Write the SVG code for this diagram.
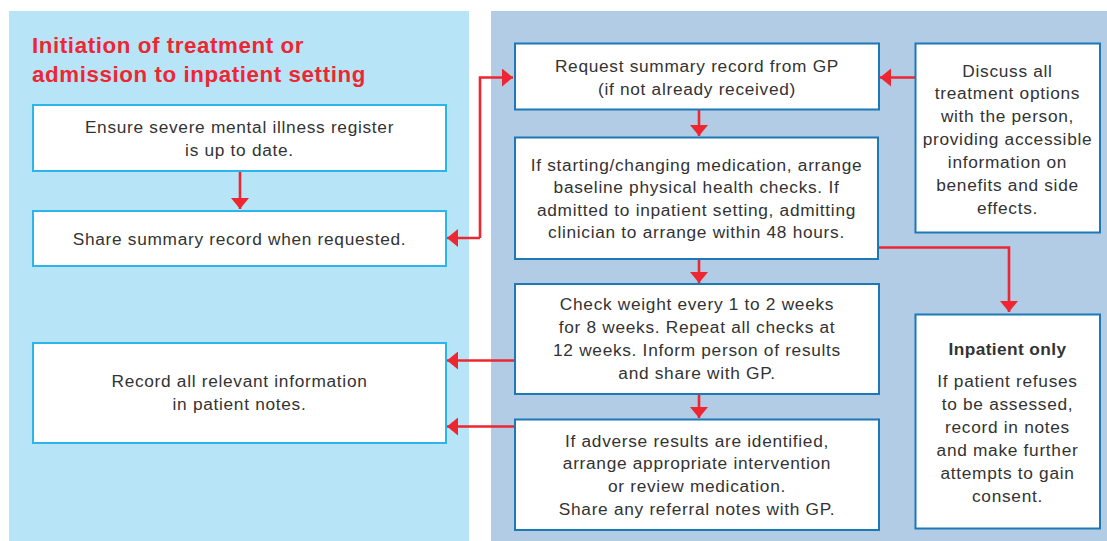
<svg xmlns="http://www.w3.org/2000/svg" width="1107" height="541" viewBox="0 0 1107 541">
<defs>
<style>
.t{font-family:"Liberation Sans",Arial,sans-serif;font-size:17.3px;letter-spacing:0.7px;fill:#333333;text-anchor:middle}
.b{font-weight:bold;letter-spacing:0.4px}
.h{font-family:"Liberation Sans",Arial,sans-serif;font-size:22.3px;letter-spacing:0.6px;font-weight:bold;fill:#ee2631}
.lb{fill:#ffffff;stroke:#2bb5e8;stroke-width:2}
.rb{fill:#ffffff;stroke:#1d78b6;stroke-width:2}
.c{fill:none;stroke:#ee2631;stroke-width:2.6}
</style>
<marker id="ah" viewBox="0 0 11 18" refX="11" refY="9" markerWidth="11" markerHeight="18" markerUnits="userSpaceOnUse" orient="auto">
<path d="M0,0 L11,9 L0,18 Z" fill="#ee2631"/>
</marker>
</defs>
<rect width="1107" height="541" fill="#ffffff"/>
<rect id="panel-left" x="9" y="11" width="460" height="530" fill="#b8e4f8"/>
<rect id="panel-right" x="491" y="11" width="616" height="530" fill="#b1cce4"/>
<text class="h" x="32" y="52.5">Initiation of treatment or</text>
<text class="h" x="32" y="81.5">admission to inpatient setting</text>
<g id="connectors">
<path class="c" d="M240,171 V209" marker-end="url(#ah)"/>
<path class="c" d="M480,238 H447" marker-end="url(#ah)"/>
<path class="c" d="M480,238 V77.5 H513" marker-end="url(#ah)"/>
<path class="c" d="M915,77.5 H880" marker-end="url(#ah)"/>
<path class="c" d="M699,109.5 V136" marker-end="url(#ah)"/>
<path class="c" d="M699,259 V283" marker-end="url(#ah)"/>
<path class="c" d="M699,394 V418" marker-end="url(#ah)"/>
<path class="c" d="M878,247.5 H1009 V312" marker-end="url(#ah)"/>
<path class="c" d="M515,360.5 H447" marker-end="url(#ah)"/>
<path class="c" d="M515,426.5 H447" marker-end="url(#ah)"/>
</g>
<g id="n-ensure">
<rect class="lb" x="33" y="105" width="413" height="66"/>
<text class="t" x="239.5" y="132.5">Ensure severe mental illness register</text>
<text class="t" x="239.5" y="155.5">is up to date.</text>
</g>
<g id="n-share">
<rect class="lb" x="33" y="211" width="413" height="55"/>
<text class="t" x="239.5" y="245">Share summary record when requested.</text>
</g>
<g id="n-record">
<rect class="lb" x="33" y="343" width="413" height="100"/>
<text class="t" x="239.5" y="387">Record all relevant information</text>
<text class="t" x="239.5" y="410">in patient notes.</text>
</g>
<g id="n-request">
<rect class="rb" x="515" y="43.5" width="364" height="66"/>
<text class="t" x="697" y="71.5">Request summary record from GP</text>
<text class="t" x="697" y="94.5">(if not already received)</text>
</g>
<g id="n-baseline">
<rect class="rb" x="515" y="137.5" width="363" height="121.5"/>
<text class="t" x="696.5" y="170.5">If starting/changing medication, arrange</text>
<text class="t" x="696.5" y="193">baseline physical health checks. If</text>
<text class="t" x="696.5" y="215.5">admitted to inpatient setting, admitting</text>
<text class="t" x="696.5" y="238">clinician to arrange within 48 hours.</text>
</g>
<g id="n-weight">
<rect class="rb" x="515" y="284" width="364" height="110"/>
<text class="t" x="697" y="310">Check weight every 1 to 2 weeks</text>
<text class="t" x="697" y="333">for 8 weeks. Repeat all checks at</text>
<text class="t" x="697" y="356">12 weeks. Inform person of results</text>
<text class="t" x="697" y="379">and share with GP.</text>
</g>
<g id="n-adverse">
<rect class="rb" x="515" y="419.5" width="364" height="110.5"/>
<text class="t" x="697" y="446.5">If adverse results are identified,</text>
<text class="t" x="697" y="469">arrange appropriate intervention</text>
<text class="t" x="697" y="492">or review medication.</text>
<text class="t" x="697" y="515">Share any referral notes with GP.</text>
</g>
<g id="n-discuss">
<rect class="rb" x="915.5" y="43.5" width="184.5" height="189"/>
<text class="t" x="1007.5" y="76.5">Discuss all</text>
<text class="t" x="1007.5" y="99">treatment options</text>
<text class="t" x="1007.5" y="122">with the person,</text>
<text class="t" x="1007.5" y="144.5">providing accessible</text>
<text class="t" x="1007.5" y="167.5">information on</text>
<text class="t" x="1007.5" y="190.5">benefits and side</text>
<text class="t" x="1007.5" y="213.5">effects.</text>
</g>
<g id="n-inpatient">
<rect class="rb" x="915.5" y="314.5" width="184.5" height="214"/>
<text class="t b" x="1007.5" y="355">Inpatient only</text>
<text class="t" x="1007.5" y="386.5">If patient refuses</text>
<text class="t" x="1007.5" y="409.5">to be assessed,</text>
<text class="t" x="1007.5" y="432.5">record in notes</text>
<text class="t" x="1007.5" y="455.5">and make further</text>
<text class="t" x="1007.5" y="478.5">attempts to gain</text>
<text class="t" x="1007.5" y="501.5">consent.</text>
</g>
</svg>
